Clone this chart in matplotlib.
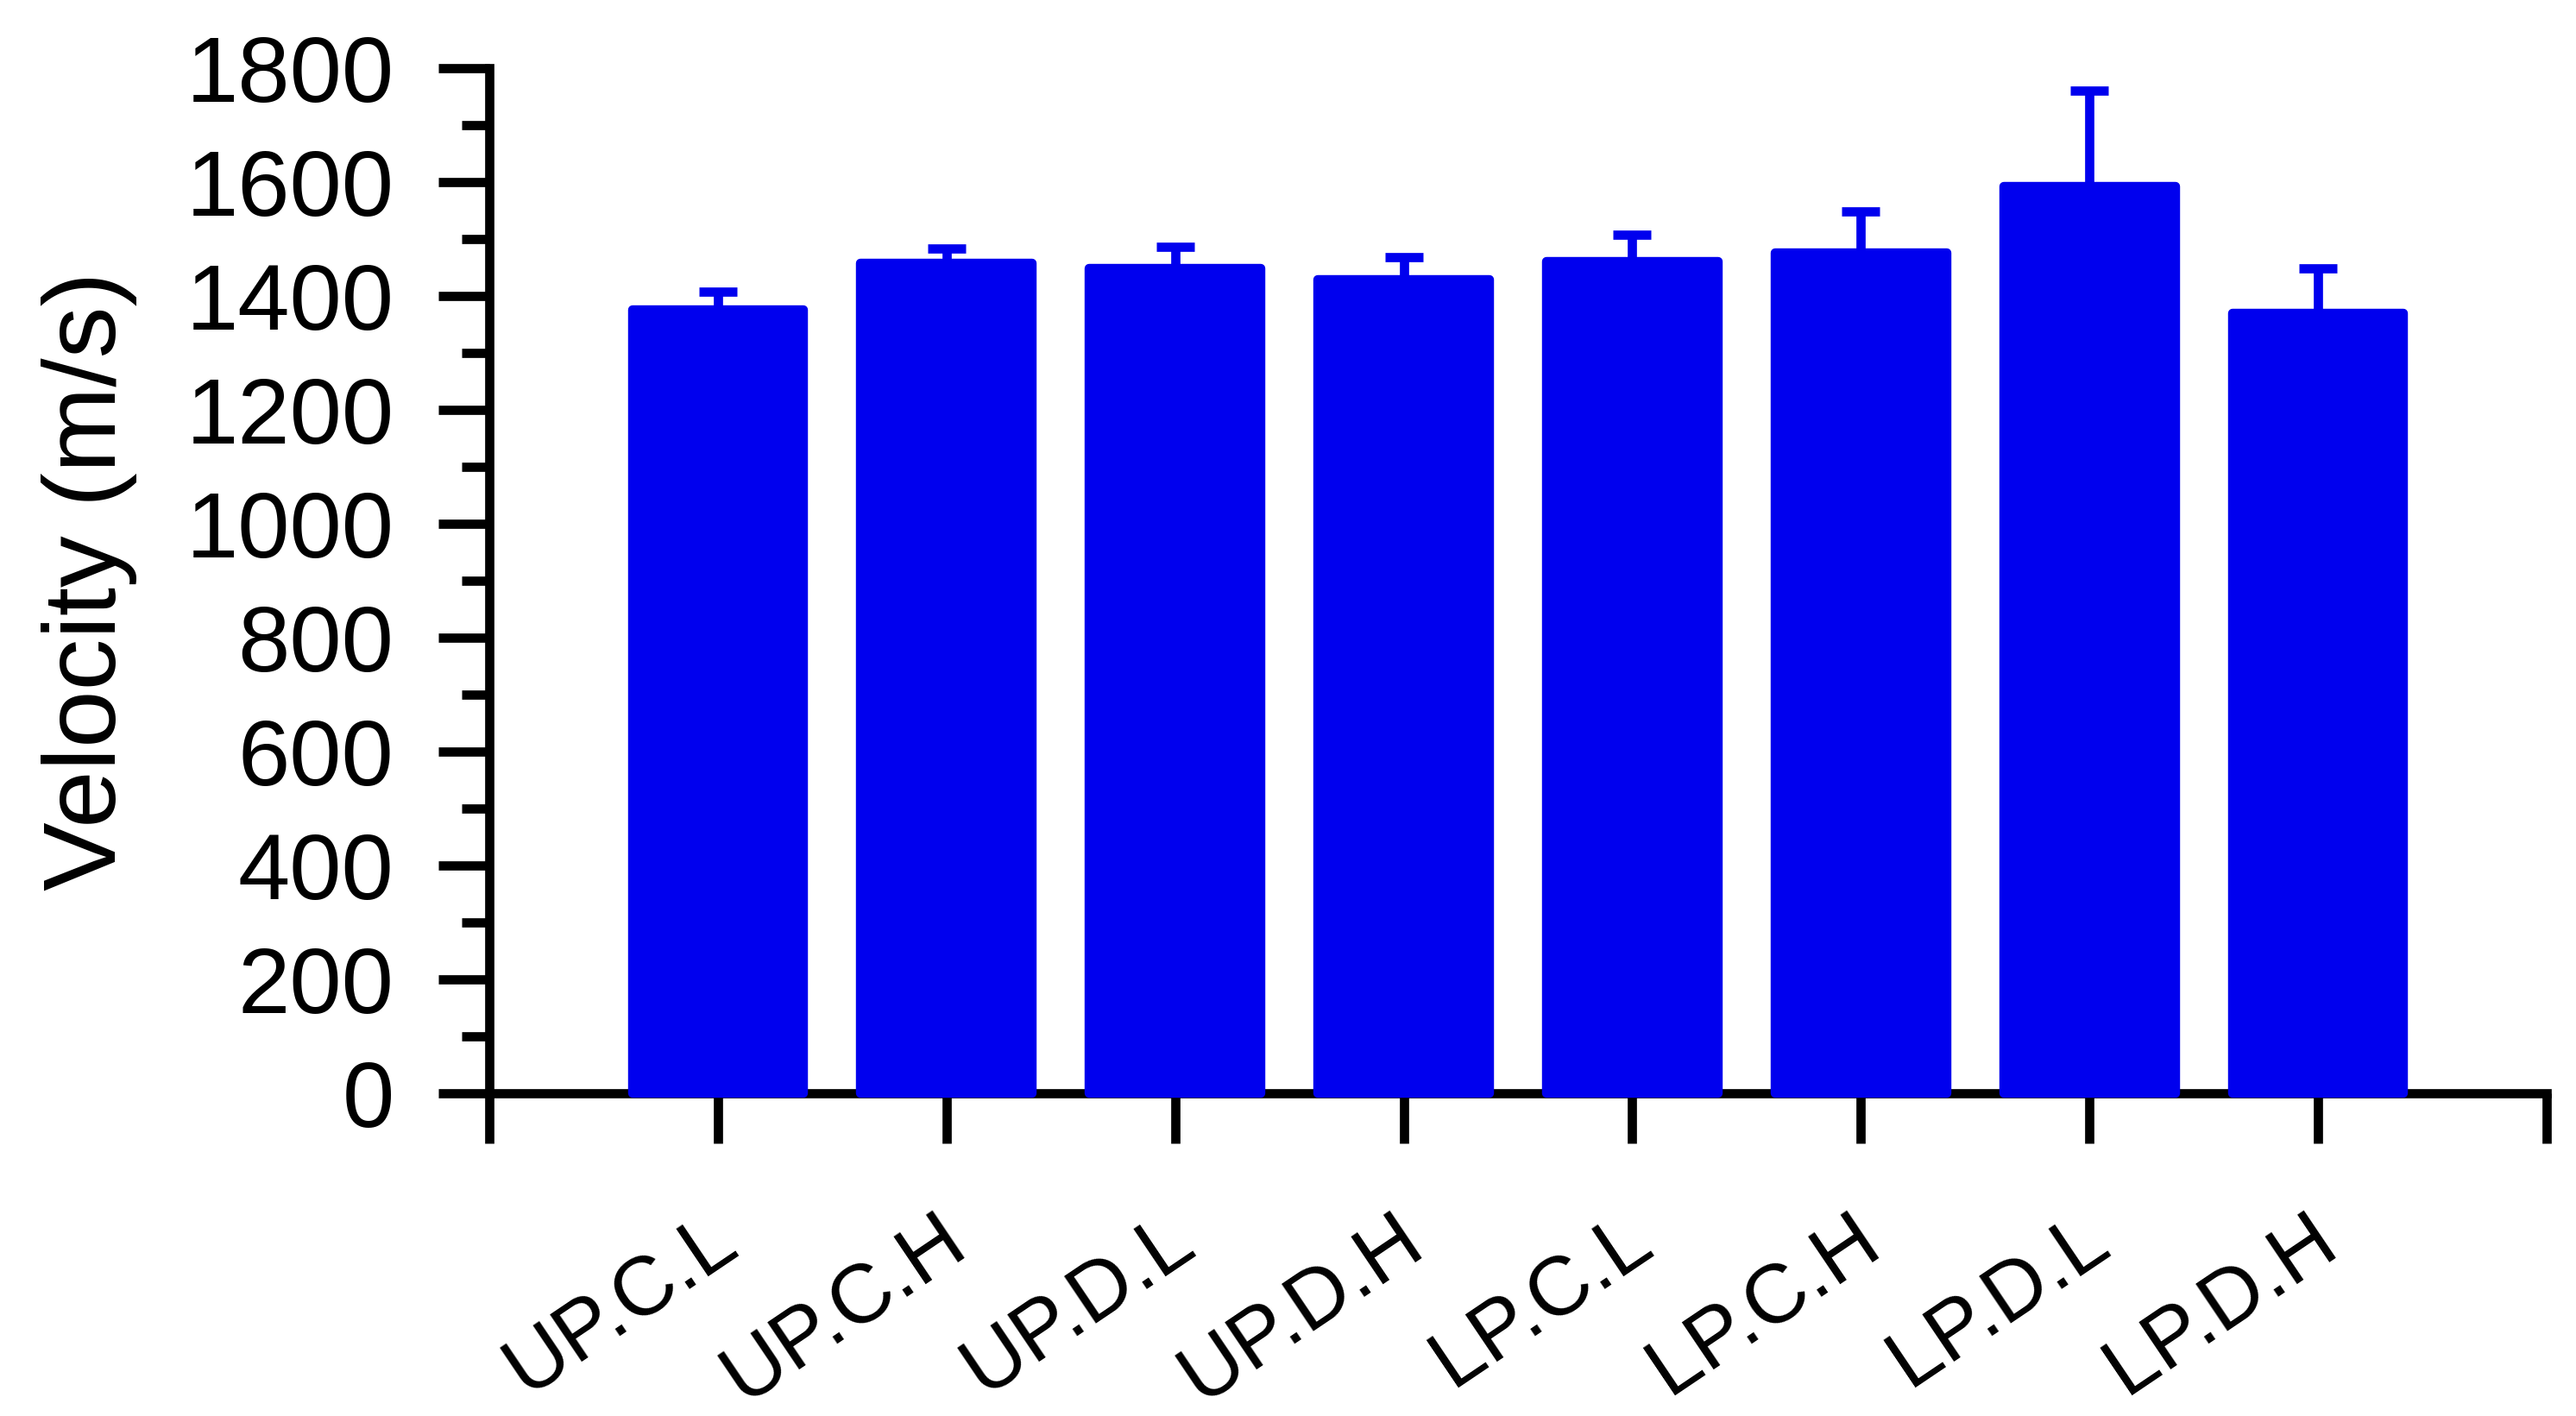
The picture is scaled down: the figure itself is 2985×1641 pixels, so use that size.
import matplotlib
matplotlib.use("Agg")
import matplotlib.pyplot as plt
import matplotlib.transforms as mtransforms
import numpy as np

# ---- data ----
categories = ["UP.C.L", "UP.C.H", "UP.D.L", "UP.D.H", "LP.C.L", "LP.C.H", "LP.D.L", "LP.D.H"]
velocity = [1376, 1458, 1449, 1429, 1461, 1476, 1592, 1370]
velocity_err = [31, 25, 37, 39, 47, 72, 169, 78]
y_ticks = [0, 200, 400, 600, 800, 1000, 1200, 1400, 1600, 1800]
y_label = "Velocity (m/s)"

BLUE = "#0000EE"
LW = 7.7  # pt

plt.rcParams['font.family'] = ['Liberation Sans', 'DejaVu Sans']

fig = plt.figure(figsize=(29.85, 16.41), dpi=100)
ax = fig.add_axes([0.18995, 0.22791, 0.79866, 0.72395])

x = np.arange(1, len(categories) + 1)
ax.bar(x, velocity, width=0.75, color=BLUE, edgecolor=BLUE, linewidth=7.5,
       joinstyle='round', zorder=3, clip_on=False)
ax.errorbar(x, velocity, yerr=[np.zeros(len(velocity)), velocity_err], fmt='none',
            ecolor=BLUE, elinewidth=LW, capsize=16, capthick=LW, zorder=4, clip_on=False)

ax.set_xlim(0, len(categories) + 1)
ax.set_ylim(0, 1800)

for side in ['top', 'right']:
    ax.spines[side].set_visible(False)
for side in ['left', 'bottom']:
    ax.spines[side].set_linewidth(LW)
    ax.spines[side].set_zorder(2)
    ax.spines[side].set_capstyle('projecting')

ax.set_yticks(y_ticks)
ax.set_yticks(np.arange(100, 1800, 200), minor=True)
ax.tick_params(axis='y', which='major', length=42.5, width=LW, labelsize=78, pad=37)
ax.tick_params(axis='y', which='minor', length=23, width=LW)

ax.set_xticks(np.arange(0, len(categories) + 2))
ax.set_xticklabels([""] + categories + [""])
ax.tick_params(axis='x', which='major', length=42, width=LW, labelsize=70, pad=47)
offset = mtransforms.ScaledTranslation(0.38, 0, fig.dpi_scale_trans)
for lab in ax.get_xticklabels():
    lab.set_rotation(34)
    lab.set_ha('right')
    lab.set_va('top')
    lab.set_transform(lab.get_transform() + offset)

ax.set_ylabel(y_label, fontsize=86)
ax.yaxis.set_label_coords(-0.171, 0.5)

fig.savefig("out.png", dpi=100)
